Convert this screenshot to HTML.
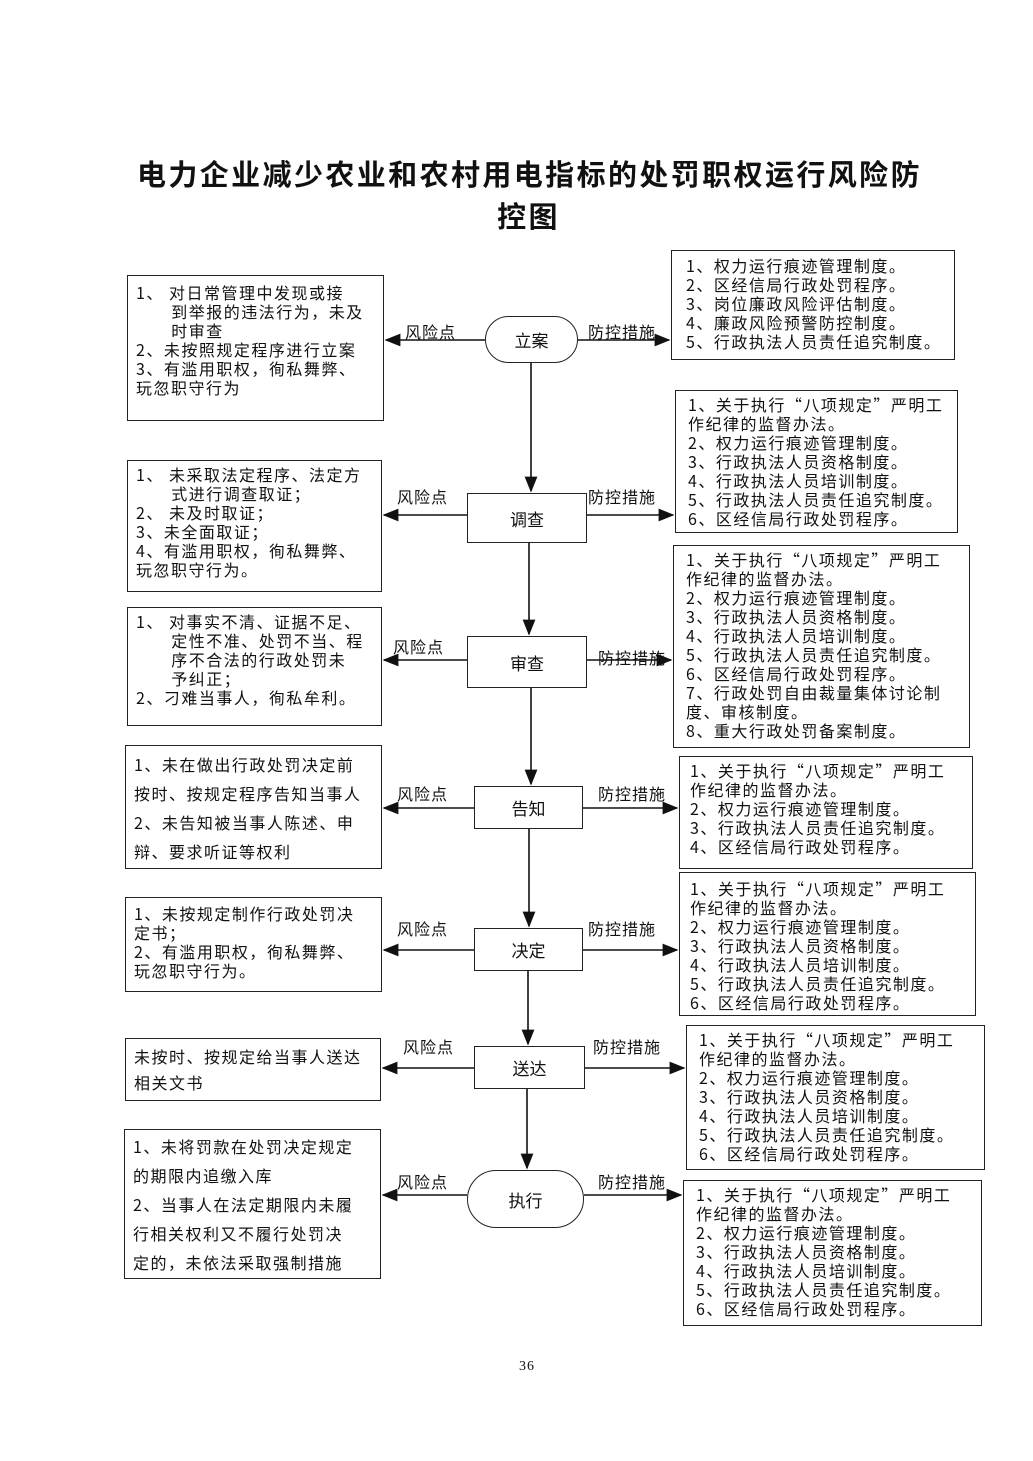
<!DOCTYPE html>
<html><head><meta charset="utf-8"><style>
body{margin:0;background:#fff;}
#p{position:relative;width:1033px;height:1461px;overflow:hidden;font-family:"Liberation Sans","Noto Sans CJK SC",sans-serif;color:#111;}
.b{position:absolute;border:1.5px solid #222;box-sizing:border-box;font-size:16px;letter-spacing:1.5px;line-height:19px;padding:4px 8px;white-space:nowrap;font-family:"Noto Sans CJK SC",sans-serif;}
.n{position:absolute;border:1.5px solid #222;box-sizing:border-box;font-size:17px;display:flex;align-items:center;justify-content:center;background:#fff;}
.l{position:absolute;font-size:16px;white-space:nowrap;letter-spacing:1px;}
.t{position:absolute;width:1033px;text-align:center;font-weight:bold;font-size:29px;letter-spacing:2.4px;}
.in{padding-left:2.2em;}
</style></head><body><div id="p">
<div class="t" style="top:152px;left:13px">电力企业减少农业和农村用电指标的处罚职权运行风险防</div>
<div class="t" style="top:194px;left:12px">控图</div>
<svg width="1033" height="1461" style="position:absolute;left:0;top:0">
<defs><marker id="a" markerWidth="10" markerHeight="8" refX="9" refY="4" orient="auto"><path d="M0,0 L10,4 L0,8 z" fill="#111"/></marker></defs>
<g stroke="#111" stroke-width="1.6" fill="none" marker-end="url(#a)">
<line x1="485" y1="340" x2="386" y2="340"/><line x1="578" y1="340" x2="669" y2="340"/>
<line x1="467" y1="515" x2="384" y2="515"/><line x1="587" y1="515" x2="673" y2="515"/>
<line x1="467" y1="660" x2="384" y2="660"/><line x1="587" y1="660" x2="671" y2="660"/>
<line x1="474" y1="808" x2="384" y2="808"/><line x1="583" y1="808" x2="677" y2="808"/>
<line x1="474" y1="950" x2="384" y2="950"/><line x1="583" y1="950" x2="677" y2="950"/>
<line x1="474" y1="1068" x2="383" y2="1068"/><line x1="585" y1="1068" x2="684" y2="1068"/>
<line x1="467" y1="1195" x2="383" y2="1195"/><line x1="584" y1="1195" x2="681" y2="1195"/>
<line x1="531" y1="363" x2="531" y2="491"/>
<line x1="529" y1="543" x2="529" y2="634"/>
<line x1="531" y1="688" x2="531" y2="784"/>
<line x1="529" y1="829" x2="529" y2="926"/>
<line x1="528" y1="971" x2="528" y2="1044"/>
<line x1="527" y1="1089" x2="527" y2="1168"/>
</g></svg>
<div class="n" style="left:485px;top:316px;width:93px;height:47px;border-radius:24px">立案</div>
<div class="n" style="left:467px;top:493px;width:120px;height:50px">调查</div>
<div class="n" style="left:467px;top:636px;width:120px;height:52px">审查</div>
<div class="n" style="left:474px;top:786px;width:109px;height:43px">告知</div>
<div class="n" style="left:474px;top:928px;width:109px;height:43px">决定</div>
<div class="n" style="left:474px;top:1046px;width:111px;height:43px">送达</div>
<div class="n" style="left:467px;top:1170px;width:117px;height:58px;border-radius:29px">执行</div>
<div class="l" style="left:405px;top:319px">风险点</div><div class="l" style="left:588px;top:319px">防控措施</div>
<div class="l" style="left:397px;top:484px">风险点</div><div class="l" style="left:588px;top:484px">防控措施</div>
<div class="l" style="left:393px;top:634px">风险点</div><div class="l" style="left:598px;top:645px">防控措施</div>
<div class="l" style="left:397px;top:781px">风险点</div><div class="l" style="left:598px;top:781px">防控措施</div>
<div class="l" style="left:397px;top:916px">风险点</div><div class="l" style="left:588px;top:916px">防控措施</div>
<div class="l" style="left:403px;top:1034px">风险点</div><div class="l" style="left:593px;top:1034px">防控措施</div>
<div class="l" style="left:397px;top:1169px">风险点</div><div class="l" style="left:598px;top:1169px">防控措施</div>

<div class="b" style="left:127px;top:275px;width:257px;height:146px;padding-top:7px">1、 对日常管理中发现或接<br><span class="in">到举报的违法行为，未及</span><br><span class="in">时审查</span><br>2、未按照规定程序进行立案<br>3、有滥用职权，徇私舞弊、<br>玩忽职守行为</div>
<div class="b" style="left:671px;top:250px;width:284px;height:110px;padding-left:14px;padding-top:5px">1、权力运行痕迹管理制度。<br>2、区经信局行政处罚程序。<br>3、岗位廉政风险评估制度。<br>4、廉政风险预警防控制度。<br>5、行政执法人员责任追究制度。</div>

<div class="b" style="left:127px;top:460px;width:255px;height:132px">1、 未采取法定程序、法定方<br><span class="in">式进行调查取证；</span><br>2、 未及时取证；<br>3、未全面取证；<br>4、有滥用职权，徇私舞弊、<br>玩忽职守行为。</div>
<div class="b" style="left:675px;top:390px;width:283px;height:143px;padding-left:12px">1、关于执行“八项规定”严明工<br>作纪律的监督办法。<br>2、权力运行痕迹管理制度。<br>3、行政执法人员资格制度。<br>4、行政执法人员培训制度。<br>5、行政执法人员责任追究制度。<br>6、区经信局行政处罚程序。</div>

<div class="b" style="left:127px;top:607px;width:255px;height:119px">1、 对事实不清、证据不足、<br><span class="in">定性不准、处罚不当、程</span><br><span class="in">序不合法的行政处罚未</span><br><span class="in">予纠正；</span><br>2、刁难当事人，徇私牟利。</div>
<div class="b" style="left:673px;top:545px;width:297px;height:203px;padding-left:12px">1、关于执行“八项规定”严明工<br>作纪律的监督办法。<br>2、权力运行痕迹管理制度。<br>3、行政执法人员资格制度。<br>4、行政执法人员培训制度。<br>5、行政执法人员责任追究制度。<br>6、区经信局行政处罚程序。<br>7、行政处罚自由裁量集体讨论制<br>度、审核制度。<br>8、重大行政处罚备案制度。</div>

<div class="b" style="left:125px;top:745px;width:257px;height:124px;line-height:29px;padding-top:4px">1、未在做出行政处罚决定前<br>按时、按规定程序告知当事人<br>2、未告知被当事人陈述、申<br>辩、要求听证等权利</div>
<div class="b" style="left:679px;top:756px;width:294px;height:113px;padding-left:10px">1、关于执行“八项规定”严明工<br>作纪律的监督办法。<br>2、权力运行痕迹管理制度。<br>3、行政执法人员责任追究制度。<br>4、区经信局行政处罚程序。</div>

<div class="b" style="left:125px;top:897px;width:257px;height:95px;padding-top:6px">1、未按规定制作行政处罚决<br>定书；<br>2、有滥用职权，徇私舞弊、<br>玩忽职守行为。</div>
<div class="b" style="left:679px;top:872px;width:297px;height:144px;padding-left:10px;padding-top:6px">1、关于执行“八项规定”严明工<br>作纪律的监督办法。<br>2、权力运行痕迹管理制度。<br>3、行政执法人员资格制度。<br>4、行政执法人员培训制度。<br>5、行政执法人员责任追究制度。<br>6、区经信局行政处罚程序。</div>

<div class="b" style="left:125px;top:1038px;width:256px;height:63px;line-height:26px;padding-top:4px">未按时、按规定给当事人送达<br>相关文书</div>
<div class="b" style="left:686px;top:1025px;width:299px;height:145px;padding-left:12px">1、关于执行“八项规定”严明工<br>作纪律的监督办法。<br>2、权力运行痕迹管理制度。<br>3、行政执法人员资格制度。<br>4、行政执法人员培训制度。<br>5、行政执法人员责任追究制度。<br>6、区经信局行政处罚程序。</div>

<div class="b" style="left:124px;top:1129px;width:257px;height:150px;line-height:29px;padding-top:2px">1、未将罚款在处罚决定规定<br>的期限内追缴入库<br>2、当事人在法定期限内未履<br>行相关权利又不履行处罚决<br>定的，未依法采取强制措施</div>
<div class="b" style="left:683px;top:1180px;width:299px;height:146px;padding-left:12px">1、关于执行“八项规定”严明工<br>作纪律的监督办法。<br>2、权力运行痕迹管理制度。<br>3、行政执法人员资格制度。<br>4、行政执法人员培训制度。<br>5、行政执法人员责任追究制度。<br>6、区经信局行政处罚程序。</div>

<div class="l" style="left:519px;top:1359px;font-size:14px;font-family:'Liberation Serif',serif">36</div>
</div></body></html>
